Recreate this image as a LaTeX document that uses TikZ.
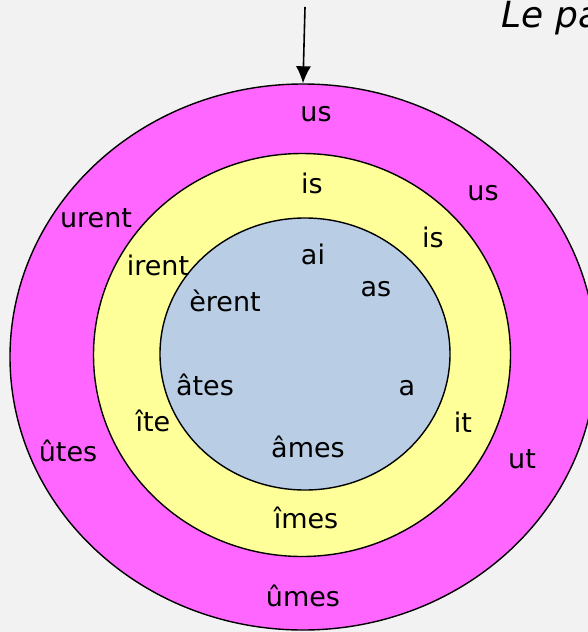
\documentclass[tikz,border=0pt]{standalone}
\usepackage{fontspec}
\setmainfont{DejaVu Sans}
\usetikzlibrary{shapes.geometric,arrows.meta}
\definecolor{fond}{HTML}{F2F2F2}
\definecolor{rose}{HTML}{FF66FF}
\definecolor{jaune}{HTML}{FFFF99}
\definecolor{bleu}{HTML}{B9CDE5}
\tikzset{
  anneau/.style={ellipse,draw,line width=1.4pt,inner sep=0pt},
  fin/.style={font=\fontsize{27}{32}\selectfont,inner sep=0pt}
}
\begin{document}
\begin{tikzpicture}[x=1pt,y=-1pt]
  \useasboundingbox (0,0) rectangle (588,632);
  \clip (0,0) rectangle (588,632);
  \fill[fond] (0,0) rectangle (588,632);
  \node[anneau,fill=rose,minimum width=586pt,minimum height=546pt] (ext) at (303,357) {};
  \node[anneau,fill=jaune,minimum width=417pt,minimum height=403pt] (mil) at (302,355) {};
  \node[anneau,fill=bleu,minimum width=290pt,minimum height=272pt] (int) at (305,354) {};
  \coordinate (haut) at (305,7);
  \draw[line width=1.6pt,-{Latex[length=17pt,width=15pt]}] (haut) -- (ext.north);
  \node[font=\fontsize{36}{40}\selectfont\itshape,anchor=west] (titre) at (498,17) {Le passé};
  % terminaisons
  \draw
    (316,114) node[fin] (us1){us}
    (483,193) node[fin] (us2){us}
    (96,218) node[fin] (urent){urent}
    (68,451) node[fin] (utes){ûtes}
    (522,459) node[fin] (ut){ut}
    (303,596) node[fin] (umes){ûmes}
    (312,183) node[fin] (is1){is}
    (433,237) node[fin] (is2){is}
    (158,265) node[fin] (irent){irent}
    (153,421) node[fin] (ite){îte}
    (463,422) node[fin] (it){it}
    (306,518) node[fin] (imes){îmes}
    (313,254) node[fin] (ai){ai}
    (376,289) node[fin] (as){as}
    (225,301) node[fin] (erent){èrent}
    (205,385) node[fin] (ates){âtes}
    (407,388) node[fin] (a){a}
    (308,447) node[fin] (ames){âmes};
\end{tikzpicture}
\end{document}
